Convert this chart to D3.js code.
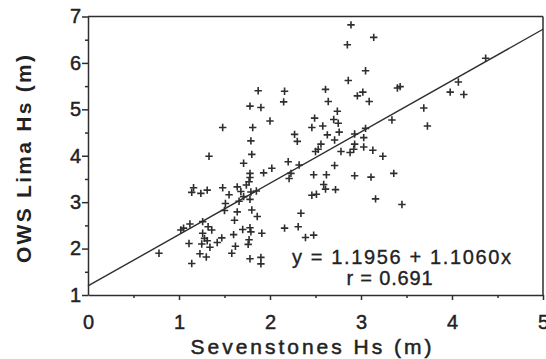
<!DOCTYPE html>
<html><head><meta charset="utf-8">
<script src="https://cdn.jsdelivr.net/npm/d3@7"></script>
<style>
body{margin:0;background:#fff}
svg{display:block}
text{font-family:"Liberation Sans",Arial,Helvetica,sans-serif;fill:#222}
</style>
</head><body>
<svg id="c" width="546" height="359"></svg>
<script>
// Sevenstones Hs (m) vs OWS Lima Hs (m)
const sevenstonesHs = [
2.89,3.14,2.85,3.05,2.86,1.87,2.16,2.61,1.78,1.90,2.15,2.64,2.96,3.02,3.09,2.74,2.00,1.81,2.49,2.46,
2.58,2.70,2.75,1.79,2.27,2.30,2.63,2.76,2.71,2.93,3.05,3.03,1.80,2.56,2.53,2.50,2.93,3.03,2.78,2.88,
2.92,3.13,3.24,2.20,2.02,2.23,2.21,2.32,2.71,2.48,2.62,2.93,3.11,1.71,1.93,1.78,1.78,1.77,1.48,1.33,
1.64,1.74,1.68,1.79,1.85,1.71,1.78,1.66,1.64,1.80,1.86,1.61,2.46,2.51,2.59,2.61,2.72,3.16,2.34,2.16,
2.31,2.39,2.48,1.60,1.70,1.78,1.79,1.91,1.77,1.76,1.62,1.58,1.78,1.90,1.90,1.42,1.47,1.16,1.14,1.24,
1.31,1.48,1.55,1.51,1.50,1.02,1.05,1.12,1.26,1.32,1.36,1.26,1.28,1.31,1.25,1.11,1.34,0.78,1.23,1.30,
1.14,3.40,3.43,4.37,4.07,3.98,4.13,3.69,3.34,3.73,3.36,3.45
];
const limaHs = [
6.82,6.55,6.39,5.83,5.62,5.40,5.39,5.43,5.07,5.04,5.16,5.17,5.29,5.37,5.17,4.96,4.75,4.61,4.81,4.61,
4.64,4.78,4.70,4.32,4.46,4.31,4.45,4.51,4.34,4.47,4.59,4.39,4.03,4.25,4.14,4.09,4.25,4.19,4.09,4.07,
4.14,4.12,3.99,3.87,3.73,3.62,3.51,3.80,3.79,3.59,3.59,3.57,3.54,3.84,3.63,3.62,3.53,3.44,4.61,3.99,
3.33,3.37,3.23,3.22,3.24,3.12,3.06,3.02,2.79,2.83,2.69,2.61,3.15,3.17,3.38,3.28,3.27,3.07,2.76,2.44,
2.47,2.24,2.29,2.30,2.41,2.45,2.36,2.33,2.19,2.09,2.05,1.90,1.78,1.81,1.67,2.13,2.23,3.31,3.21,3.19,
3.26,3.31,3.16,2.97,2.82,2.40,2.44,2.53,2.58,2.47,2.40,2.33,2.22,2.17,2.10,2.11,2.03,1.90,1.89,1.82,
1.68,5.46,5.49,6.10,5.59,5.37,5.32,5.03,4.77,4.64,3.62,2.95
];
const xTicks = [0,1,2,3,4,5];
const xMinorTicks = [0.5,1.5,2.5,3.5,4.5];
const yTicks = [1,2,3,4,5,6,7];
const yMinorTicks = [1.5,2.5,3.5,4.5,5.5,6.5];
const fitIntercept = 1.1956, fitSlope = 1.1060, fitR = 0.691;
const xTitle = "Sevenstones Hs (m)";
const yTitle = "OWS Lima Hs (m)";

const ink = "#2e2e2e";
const svg = d3.select("#c");
const x = d3.scaleLinear().domain([0,5]).range([88,543]);
const y = d3.scaleLinear().domain([1,7]).range([295,16.5]);

// frame top & right
svg.append("line").attr("x1",x(0)).attr("x2",x(5)).attr("y1",y(7)).attr("y2",y(7))
  .attr("stroke",ink).attr("stroke-width",1.5);
svg.append("line").attr("x1",x(5)).attr("x2",x(5)).attr("y1",y(7)).attr("y2",y(1))
  .attr("stroke",ink).attr("stroke-width",1.5);

function styleAxis(g){
  g.selectAll("path,line").attr("stroke",ink).attr("stroke-width",1.5);
  g.selectAll("text").attr("fill","#222").attr("stroke","#222").attr("stroke-width",0.45)
   .style("font-size","20px");
}
// y axis
const gy = svg.append("g").attr("transform",`translate(${x(0)},0)`)
  .call(d3.axisLeft(y).tickValues(yTicks).tickSize(6).tickPadding(1).tickSizeOuter(0).tickFormat(d3.format("d")));
styleAxis(gy);
const gy2 = svg.append("g").attr("transform",`translate(${x(0)},0)`)
  .call(d3.axisLeft(y).tickValues(yMinorTicks).tickSize(3).tickFormat(""));
gy2.select(".domain").remove(); styleAxis(gy2);
// x axis
const gx = svg.append("g").attr("transform",`translate(0,${y(1)})`)
  .call(d3.axisBottom(x).tickValues(xTicks).tickSize(5).tickPadding(15).tickSizeOuter(0).tickFormat(d3.format("d")));
styleAxis(gx);
const gx2 = svg.append("g").attr("transform",`translate(0,${y(1)})`)
  .call(d3.axisBottom(x).tickValues(xMinorTicks).tickSize(3).tickFormat(""));
gx2.select(".domain").remove(); styleAxis(gx2);
gx.selectAll(".tick").filter(d=>d===0).select("line").remove();

// regression line
svg.append("line")
  .attr("x1",x(0)).attr("y1",y(fitIntercept))
  .attr("x2",x(5)).attr("y2",y(fitIntercept+fitSlope*5))
  .attr("stroke",ink).attr("stroke-width",1.4);

// points
const pts = sevenstonesHs.map((v,i)=>({x:v,y:limaHs[i]}));
svg.append("g").selectAll("path").data(pts).join("path")
  .attr("transform",d=>`translate(${x(d.x)},${y(d.y)})`)
  .attr("d","M-3.7,0H3.7M0,-3.7V3.7")
  .attr("stroke",ink).attr("stroke-width",1.6).attr("fill","none");

// equation
svg.append("text").attr("x",292).attr("y",263.5).style("font-size","20px")
  .attr("stroke","#222").attr("stroke-width",0.35)
  .attr("textLength",219).attr("lengthAdjust","spacing")
  .text(`y = ${fitIntercept.toFixed(4)} + ${fitSlope.toFixed(4)}x`);
svg.append("text").attr("x",346.5).attr("y",285).style("font-size","20px")
  .attr("stroke","#222").attr("stroke-width",0.35)
  .attr("textLength",86).attr("lengthAdjust","spacing")
  .text(`r = ${fitR.toFixed(3)}`);

// titles
svg.append("text").attr("x",311).attr("y",354).attr("text-anchor","middle")
  .style("font-size","21px").attr("stroke","#222").attr("stroke-width",0.5)
  .attr("textLength",241).attr("lengthAdjust","spacing")
  .text(xTitle);
svg.append("text").attr("transform","translate(31,159) rotate(-90)").attr("text-anchor","middle")
  .style("font-size","21px").style("font-weight","bold").attr("textLength",208).attr("lengthAdjust","spacing")
  .text(yTitle);
</script>
</body></html>
